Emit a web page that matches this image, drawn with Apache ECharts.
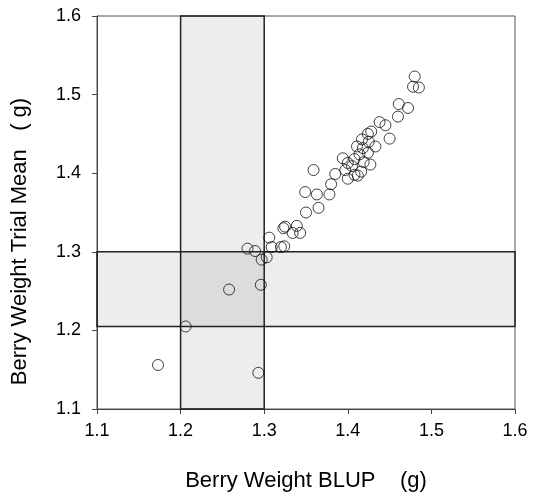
<!DOCTYPE html>
<html>
<head>
<meta charset="utf-8">
<script src="https://cdn.jsdelivr.net/npm/echarts@6/dist/echarts.min.js"></script>
<style>html,body{margin:0;padding:0;background:#fff;}#c{width:533px;height:497px;}</style>
</head>
<body>
<div id="c"></div>
<script>
var xTicks = [1.1, 1.2, 1.3, 1.4, 1.5, 1.6];
var yTicks = [1.1, 1.2, 1.3, 1.4, 1.5, 1.6];
var blup = [1.480,1.478,1.485,1.461,1.472,1.460,1.438,1.445,1.450,1.428,1.424,1.417,1.425,1.433,1.411,1.418,1.424,1.414,1.394,1.408,1.419,1.400,1.427,1.405,1.397,1.416,1.359,1.385,1.408,1.412,1.400,1.380,1.349,1.363,1.378,1.365,1.350,1.325,1.339,1.323,1.334,1.343,1.306,1.309,1.320,1.324,1.280,1.289,1.297,1.303,1.258,1.296,1.206,1.173,1.293];
var trialMean = [1.523,1.510,1.509,1.488,1.483,1.472,1.465,1.461,1.444,1.453,1.450,1.443,1.440,1.434,1.434,1.432,1.426,1.424,1.419,1.418,1.414,1.413,1.411,1.409,1.404,1.402,1.404,1.399,1.398,1.397,1.393,1.386,1.376,1.373,1.373,1.356,1.350,1.332,1.333,1.330,1.324,1.324,1.318,1.306,1.306,1.307,1.304,1.301,1.290,1.293,1.252,1.258,1.205,1.156,1.146];
var xBand = [1.2, 1.3];
var yBand = [1.205, 1.3];

var pts = blup.map(function (v, i) { return [v, trialMean[i]]; });
var chart = echarts.init(document.getElementById('c'), null, { renderer: 'canvas' });
var font = 'Liberation Sans, Arial, sans-serif';
chart.setOption({
  animation: false,
  backgroundColor: '#fff',
  grid: { left: 97, right: 18, top: 16, bottom: 84, show: true, borderColor: '#555', borderWidth: 1, backgroundColor: 'transparent' },
  xAxis: {
    type: 'value', min: xTicks[0], max: xTicks[xTicks.length - 1], interval: 0.1,
    name: 'Berry Weight BLUP    (g)', nameLocation: 'middle', nameGap: 61,
    nameTextStyle: { fontFamily: font, fontSize: 22, color: '#000' },
    axisLine: { show: true, lineStyle: { color: '#444', width: 1 } },
    axisTick: { show: true, length: 5, lineStyle: { color: '#444' } },
    axisLabel: { fontFamily: font, fontSize: 18, color: '#000', margin: 13, formatter: function (v) { return v.toFixed(1); } },
    splitLine: { show: false }
  },
  yAxis: {
    type: 'value', min: yTicks[0], max: yTicks[yTicks.length - 1], interval: 0.1,
    name: 'Berry Weight Trial Mean   ( g)', nameLocation: 'middle', nameGap: 66,
    nameTextStyle: { fontFamily: font, fontSize: 22, color: '#000', padding: [0, 58, 0, 0] },
    axisLine: { show: true, lineStyle: { color: '#444', width: 1 } },
    axisTick: { show: true, length: 5, lineStyle: { color: '#444' } },
    axisLabel: { fontFamily: font, fontSize: 18, color: '#000', margin: 16, formatter: function (v) { return v.toFixed(1); } },
    splitLine: { show: false }
  },
  series: [
    {
      type: 'scatter', data: [], silent: true,
      markArea: {
        silent: true,
        itemStyle: { color: 'rgba(0,0,0,0.07)', borderColor: '#222', borderWidth: 1.5 },
        data: [
          [{ xAxis: xBand[0], yAxis: yTicks[0] }, { xAxis: xBand[1], yAxis: yTicks[yTicks.length - 1] }],
          [{ xAxis: xTicks[0], yAxis: yBand[0] }, { xAxis: xTicks[xTicks.length - 1], yAxis: yBand[1] }]
        ]
      }
    },
    {
      type: 'scatter', data: pts, symbol: 'circle', symbolSize: 11,
      itemStyle: { color: 'rgba(255,255,255,0)', borderColor: '#111', borderWidth: 1 },
      z: 5
    }
  ]
});
</script>
</body>
</html>
